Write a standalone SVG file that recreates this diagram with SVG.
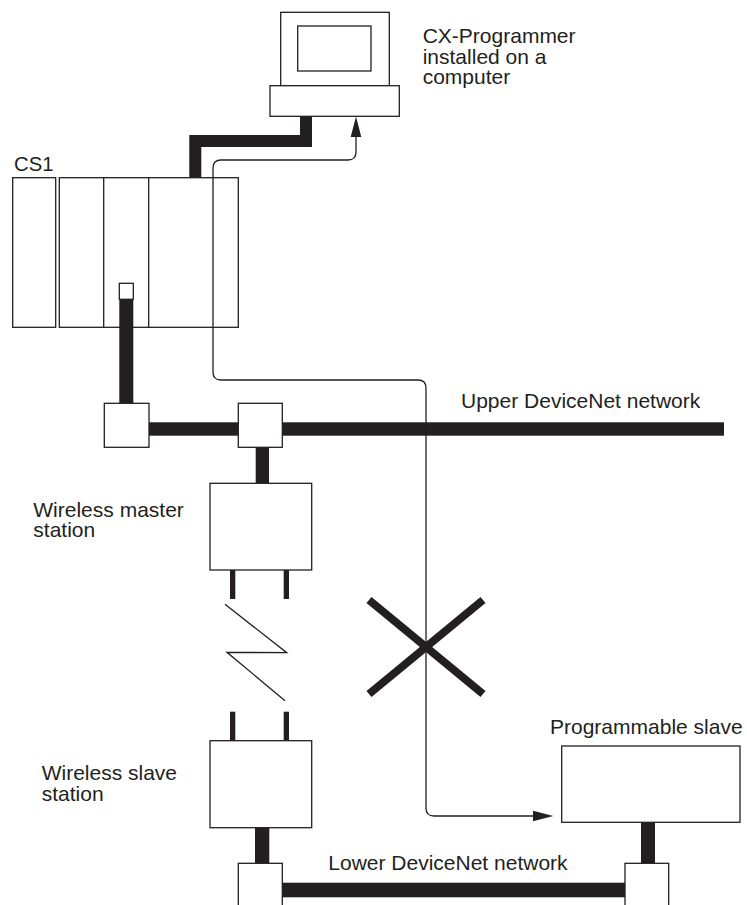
<svg xmlns="http://www.w3.org/2000/svg" width="747" height="905" viewBox="0 0 747 905">
<style>
.box{fill:#fff;stroke:#231f20;stroke-width:1.3}
.bar{fill:#231f20}
.thin{fill:none;stroke:#231f20;stroke-width:1.3}
.lbl{font-family:"Liberation Sans",Arial,sans-serif;font-size:21px;fill:#231f20}
</style>
<rect width="747" height="905" fill="#fff"/>
<g id="cs1">
<rect class="box" x="12.7" y="177.7" width="43" height="149.6"/>
<rect class="box" x="59.3" y="177.7" width="179" height="149.6"/>
<line class="thin" x1="103.7" y1="177.7" x2="103.7" y2="327.3"/>
<line class="thin" x1="148.7" y1="177.7" x2="148.7" y2="327.3"/>
<rect class="box" x="119.3" y="283.3" width="14" height="16"/>
</g>
<g id="connectors">
<path d="M306,116 V141 H195.3 V178" fill="none" stroke="#231f20" stroke-width="12"/>
<rect class="bar" x="119.3" y="299.3" width="14" height="104"/>
<rect class="bar" x="126" y="422.3" width="598" height="13.4"/>
<rect class="bar" x="255.7" y="447" width="13.3" height="36.5"/>
<rect class="bar" x="230" y="570" width="5.3" height="29"/>
<rect class="bar" x="283.7" y="570" width="5.3" height="29"/>
<polyline class="thin" points="225,604.3 286.7,652.7 227,652.3 285,700.7"/>
<rect class="bar" x="230" y="711.7" width="5.3" height="29"/>
<rect class="bar" x="283.7" y="711.7" width="5.3" height="29"/>
<rect class="bar" x="255" y="827.5" width="14.3" height="36"/>
<rect class="bar" x="282" y="882.7" width="343.5" height="14.6"/>
<rect class="bar" x="641" y="822" width="14" height="41.5"/>
<g id="cross" stroke="#231f20" stroke-width="8" stroke-linecap="butt">
<line x1="369" y1="600" x2="483" y2="694"/>
<line x1="369" y1="694" x2="483" y2="600"/>
</g>
</g>
<g id="computer">
<rect class="box" x="280.7" y="12.3" width="108.6" height="73.4"/>
<rect class="box" x="297.7" y="26" width="73.3" height="45"/>
<rect class="box" x="270" y="85.7" width="129.3" height="30.6"/>
</g>
<g id="tap1"><rect class="box" x="104.3" y="403.3" width="44.7" height="44"/></g>
<g id="tap2"><rect class="box" x="238.3" y="403.3" width="44" height="44"/></g>
<g id="master"><rect class="box" x="210" y="483.3" width="101.7" height="86.7"/></g>
<g id="slave"><rect class="box" x="210" y="740.7" width="101.7" height="87"/></g>
<g id="tap3"><rect class="box" x="238.3" y="863.3" width="44" height="50"/></g>
<g id="tap4"><rect class="box" x="625" y="863.3" width="43.7" height="50"/></g>
<g id="progslave"><rect class="box" x="561.7" y="746" width="178.3" height="76.3"/></g>
<g id="path-arrow">
<path class="thin" d="M356,136 V152 Q356,160 348,160 H221 Q213,160 213,168 V372 Q213,380 221,380 H418 Q426,380 426,388 V808 Q426,816 434,816 H535"/>
<polygon points="350.7,137 356,116.5 361.3,137" fill="#231f20"/>
<polygon points="533,810.7 553.3,816 533,821.3" fill="#231f20"/>
</g>
<g id="labels" class="lbl">
<text x="422.7" y="43.3">CX-Programmer</text>
<text x="422.7" y="63.7">installed on a</text>
<text x="422.7" y="84">computer</text>
<text x="14" y="170.7" style="font-size:20.3px">CS1</text>
<text x="461" y="407.7">Upper DeviceNet network</text>
<text x="33.3" y="516.7">Wireless master</text>
<text x="33.3" y="537.3">station</text>
<text x="550" y="734.3">Programmable slave</text>
<text x="41.7" y="780">Wireless slave</text>
<text x="41.7" y="800.6">station</text>
<text x="328.3" y="870">Lower DeviceNet network</text>
</g>
</svg>
